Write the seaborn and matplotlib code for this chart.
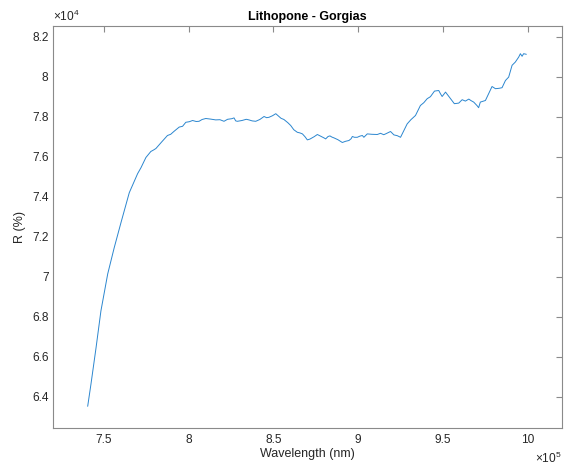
import matplotlib
matplotlib.use("Agg")
import matplotlib.pyplot as plt
from matplotlib import ticker
import numpy as np
import pandas as pd
import seaborn as sns

# Reflectance spectrum (wavelength in units of 1e5 nm, R in units of 1e4 %)
wavelength_e5 = [
    7.406, 7.425, 7.455, 7.484, 7.524, 7.562, 7.602, 7.651, 7.700, 7.720,
    7.749, 7.778, 7.795, 7.808, 7.840, 7.876, 7.895, 7.915, 7.945, 7.965,
    7.984, 8.005, 8.024, 8.045, 8.062, 8.080, 8.102, 8.130, 8.160, 8.185,
    8.209, 8.230, 8.255, 8.268, 8.278, 8.288, 8.315, 8.340, 8.356, 8.375,
    8.396, 8.420, 8.445, 8.460, 8.474, 8.495, 8.514, 8.530, 8.545, 8.562,
    8.585, 8.602, 8.620, 8.641, 8.656, 8.671, 8.686, 8.700, 8.715, 8.740,
    8.759, 8.778, 8.798, 8.808, 8.822, 8.833, 8.845, 8.857, 8.880, 8.906,
    8.925, 8.945, 8.958, 8.965, 8.978, 8.994, 9.010, 9.024, 9.033, 9.053,
    9.080, 9.112, 9.131, 9.150, 9.161, 9.190, 9.210, 9.230, 9.249, 9.265,
    9.288, 9.310, 9.337, 9.366, 9.386, 9.406, 9.425, 9.449, 9.474, 9.484,
    9.494, 9.514, 9.530, 9.543, 9.566, 9.592, 9.612, 9.631, 9.651, 9.665,
    9.680, 9.700, 9.709, 9.719, 9.749, 9.768, 9.788, 9.808, 9.830, 9.847,
    9.867, 9.886, 9.906, 9.925, 9.945, 9.955, 9.965, 9.974, 9.990,
]
reflectance_e4 = [
    6.352, 6.461, 6.643, 6.829, 7.014, 7.144, 7.270, 7.420, 7.515, 7.545,
    7.596, 7.626, 7.634, 7.641, 7.672, 7.706, 7.712, 7.727, 7.748, 7.752,
    7.772, 7.775, 7.781, 7.776, 7.777, 7.786, 7.791, 7.788, 7.784, 7.785,
    7.777, 7.787, 7.790, 7.794, 7.779, 7.777, 7.781, 7.787, 7.784, 7.779,
    7.777, 7.786, 7.801, 7.795, 7.797, 7.805, 7.815, 7.803, 7.792, 7.786,
    7.770, 7.756, 7.735, 7.722, 7.719, 7.714, 7.700, 7.684, 7.688, 7.700,
    7.711, 7.703, 7.694, 7.689, 7.701, 7.704, 7.698, 7.694, 7.685, 7.671,
    7.677, 7.681, 7.690, 7.701, 7.697, 7.697, 7.703, 7.706, 7.697, 7.714,
    7.712, 7.711, 7.717, 7.710, 7.714, 7.726, 7.709, 7.705, 7.697, 7.725,
    7.764, 7.785, 7.806, 7.856, 7.870, 7.890, 7.900, 7.928, 7.931, 7.915,
    7.901, 7.923, 7.905, 7.890, 7.865, 7.868, 7.885, 7.878, 7.888, 7.880,
    7.873, 7.855, 7.845, 7.873, 7.881, 7.915, 7.951, 7.940, 7.942, 7.945,
    7.981, 7.998, 8.057, 8.073, 8.098, 8.115, 8.102, 8.115, 8.112,
]

x_ticks_e5 = [7.5, 8, 8.5, 9, 9.5, 10]
y_ticks_e4 = [6.4, 6.6, 6.8, 7, 7.2, 7.4, 7.6, 7.8, 8, 8.2]

df = pd.DataFrame({
    "Wavelength (nm)": np.array(wavelength_e5) * 1e5,
    "R (%)": np.array(reflectance_e4) * 1e4,
})

sns.set_theme(style="white")
plt.rcParams["font.family"] = ["Liberation Sans", "DejaVu Sans"]
plt.rcParams["mathtext.fontset"] = "custom"
plt.rcParams["mathtext.rm"] = "Liberation Sans"
plt.rcParams["mathtext.it"] = "Liberation Sans"

text_color = "#262626"
spine_color = "#8a8a8a"
line_color = "#2b86cf"

fig = plt.figure(figsize=(5.68, 4.68), dpi=100)
ax = fig.add_axes([0.0928, 0.0861, 0.8966, 0.8590])

sns.lineplot(data=df, x="Wavelength (nm)", y="R (%)", ax=ax,
             color=line_color, linewidth=0.7, sort=False, estimator=None)

ax.set_xlim(7.2e5, 10.2e5)
ax.set_ylim(6.245e4, 8.255e4)
ax.set_xticks([v * 1e5 for v in x_ticks_e5])
ax.set_yticks([v * 1e4 for v in y_ticks_e4])
ax.xaxis.set_major_formatter(ticker.FuncFormatter(lambda v, p: f"{v / 1e5:g}"))
ax.yaxis.set_major_formatter(ticker.FuncFormatter(lambda v, p: f"{v / 1e4:g}"))

for side in ["left", "right", "top", "bottom"]:
    ax.spines[side].set_visible(True)
    ax.spines[side].set_color(spine_color)
    ax.spines[side].set_linewidth(0.8)

ax.tick_params(axis="both", which="major", direction="in", length=4,
               width=0.8, color=spine_color, labelcolor=text_color,
               labelsize=8.6, top=True, right=True)
ax.tick_params(axis="x", pad=4.2)
ax.tick_params(axis="y", pad=3.0)

ax.set_xlabel("Wavelength (nm)", fontsize=9, color=text_color, labelpad=1.5)
ax.set_ylabel("R (%)", fontsize=9, color=text_color, labelpad=4)
ax.set_title("Lithopone - Gorgias", fontsize=9, fontweight="bold",
             color="black", pad=4)

# Exponent multipliers for both axes
ax.text(0.0, 1.003, r"$\times10^{4}$", transform=ax.transAxes,
        ha="left", va="bottom", fontsize=8.6, color=text_color)
ax.text(1.0, -0.088, r"$\times10^{5}$", transform=ax.transAxes,
        ha="right", va="baseline", fontsize=8.6, color=text_color)

fig.savefig("out.png", dpi=100)
